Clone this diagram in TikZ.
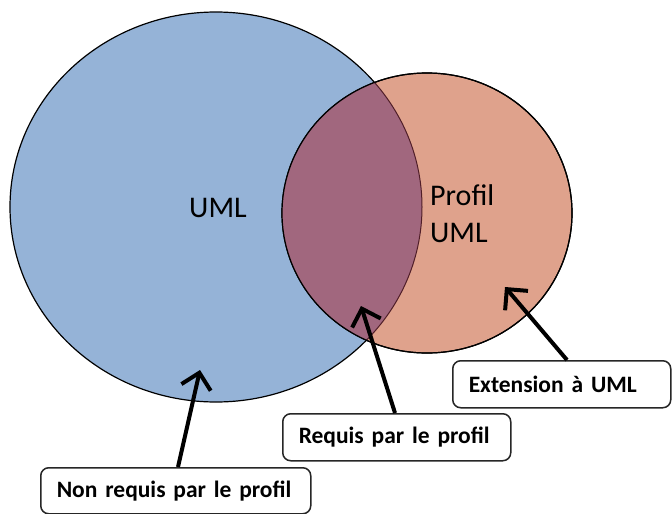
\documentclass[tikz,border=0pt]{standalone}
\usepackage{fontspec}
\setmainfont{Carlito}
\usetikzlibrary{arrows.meta}
\definecolor{umlblue}{RGB}{149,179,215}
\definecolor{profilorange}{RGB}{223,162,140}
\definecolor{overlap}{RGB}{161,103,126}
\definecolor{lensline}{RGB}{80,30,40}
\begin{document}
\begin{tikzpicture}[x=1pt,y=-1pt,
  circlelabel/.style={font=\fontsize{30}{37}\selectfont, inner sep=0pt},
  labelbox/.style={draw=black!85, line width=1.5pt, fill=white, rounded corners=8pt,
     font=\bfseries\fontsize{23.5}{28}\selectfont, align=left, inner xsep=16pt,
     inner ysep=0pt, anchor=north west},
  pointer/.style={line width=4pt, -{Straight Barb[length=15pt,width=30pt,line width=4pt]}}
]
\useasboundingbox (0,0) rectangle (672,514);
\fill[white] (0,0) rectangle (672,514);
% circles
\filldraw[fill=umlblue, draw=black, line width=1.2pt] (216,207) ellipse [x radius=206, y radius=195];
\filldraw[fill=profilorange, draw=black, line width=1.2pt] (427,213) ellipse [x radius=145, y radius=140];
\begin{scope}
  \clip (216,207) ellipse [x radius=206, y radius=195];
  \fill[overlap] (427,213) ellipse [x radius=145, y radius=140];
\end{scope}
\begin{scope}
  \clip (427,213) ellipse [x radius=145, y radius=140];
  \draw[lensline, line width=1pt] (216,207) ellipse [x radius=206, y radius=195];
\end{scope}
\draw[black, line width=1.2pt] (427,213) ellipse [x radius=145, y radius=140];
% circle labels
\node[circlelabel] (uml) at (218,208) {UML};
\node[circlelabel, anchor=west, align=left] (profil) at (430,214) {Profil\\UML};
% boxes
\node[labelbox, text width=238pt, minimum height=46pt] (nonreq) at (40,467) {Non requis par le profil};
\node[labelbox, text width=196pt, minimum height=47pt] (req) at (282,413) {Requis par le profil};
\node[labelbox, text width=186pt, minimum height=47pt] (ext) at (452,360) {Extension à UML};
% arrow tips
\coordinate (tipA) at (200,370);
\coordinate (tipB) at (361,306);
\coordinate (tipC) at (505,287);
\draw[pointer] (nonreq.north west -| 178,0) -- (tipA);
\draw[pointer] (req.north west -| 395,0) -- (tipB);
\draw[pointer] (ext.north west -| 567,0) -- (tipC);
\end{tikzpicture}
\end{document}
